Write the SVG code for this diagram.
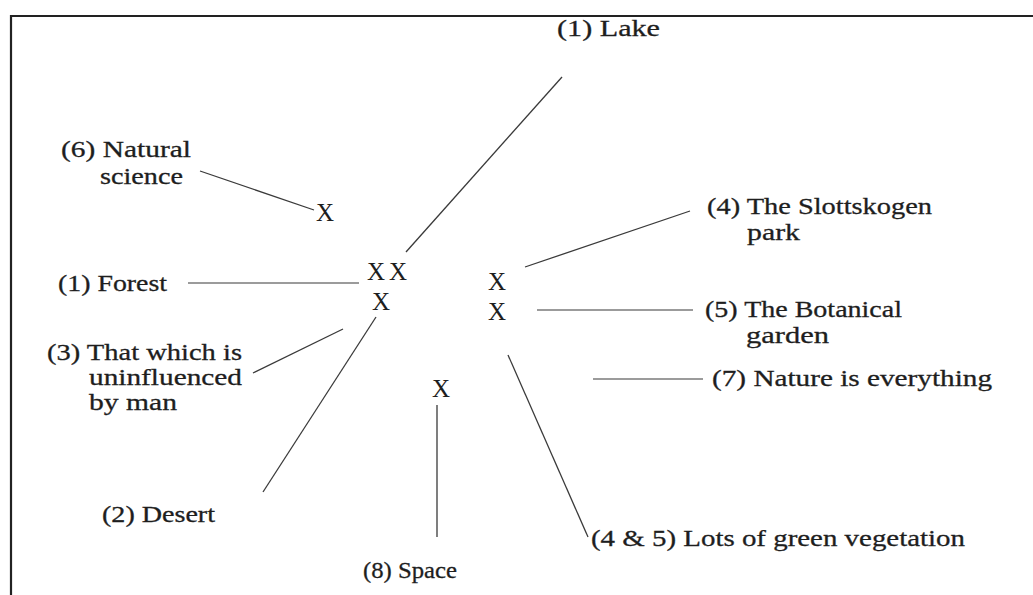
<svg xmlns="http://www.w3.org/2000/svg" width="1033" height="595" viewBox="0 0 1033 595">
<style>
.lbl{font-family:"Liberation Serif","Times New Roman",serif;font-size:24px;fill:#1e1e1e;stroke:#1e1e1e;stroke-width:0.3;}
.x{font-family:"Liberation Serif","Times New Roman",serif;font-size:25px;fill:#1e1e1e;text-anchor:middle;}
.c{stroke:#3a3a3a;stroke-width:1.3;fill:none;}
.cl{stroke:#7a7a7a;stroke-width:1.3;fill:none;}
.frame{stroke:#222;stroke-width:2.2;fill:none;}
</style>
<rect x="0" y="0" width="1033" height="595" fill="#fff"/>
<g id="frame">
<path class="frame" d="M11,595 L11,16 L1033,16"/>
</g>
<g id="connectors">
<line class="c" x1="406" y1="252" x2="562" y2="77"/>
<line class="c" x1="200" y1="171" x2="314" y2="210"/>
<line class="cl" x1="188" y1="283" x2="359" y2="283"/>
<line class="c" x1="253" y1="373" x2="343" y2="329"/>
<line class="c" x1="376" y1="317" x2="263" y2="492"/>
<line class="c" x1="437" y1="405" x2="437" y2="537"/>
<line class="c" x1="525" y1="267" x2="690" y2="211"/>
<line class="cl" x1="537" y1="310" x2="693" y2="310"/>
<line class="cl" x1="593" y1="379" x2="703" y2="379"/>
<line class="c" x1="508" y1="355" x2="588" y2="537"/>
</g>
<g id="mark-lake-forest-1"><text class="x" x="376" y="280">X</text></g>
<g id="mark-lake-forest-2"><text class="x" x="398" y="280">X</text></g>
<g id="mark-desert-uninfluenced"><text class="x" x="381" y="310">X</text></g>
<g id="mark-slottskogen"><text class="x" x="497" y="290">X</text></g>
<g id="mark-botanical"><text class="x" x="497" y="320">X</text></g>
<g id="mark-space"><text class="x" x="441" y="397">X</text></g>
<g id="mark-natural-science"><text class="x" x="325" y="221">X</text></g>
<g id="label-lake"><text class="lbl" x="557" y="36" textLength="103" lengthAdjust="spacingAndGlyphs">(1) Lake</text></g>
<g id="label-natural-science">
<text class="lbl" x="61" y="157" textLength="130" lengthAdjust="spacingAndGlyphs">(6) Natural</text>
<text class="lbl" x="100" y="184" textLength="83" lengthAdjust="spacingAndGlyphs">science</text>
</g>
<g id="label-forest"><text class="lbl" x="58" y="291" textLength="109" lengthAdjust="spacingAndGlyphs">(1) Forest</text></g>
<g id="label-uninfluenced">
<text class="lbl" x="47" y="360" textLength="195" lengthAdjust="spacingAndGlyphs">(3) That which is</text>
<text class="lbl" x="89" y="385" textLength="153" lengthAdjust="spacingAndGlyphs">uninfluenced</text>
<text class="lbl" x="89" y="410" textLength="88" lengthAdjust="spacingAndGlyphs">by man</text>
</g>
<g id="label-desert"><text class="lbl" x="102" y="522" textLength="113" lengthAdjust="spacingAndGlyphs">(2) Desert</text></g>
<g id="label-space"><text class="lbl" x="363" y="578" textLength="94" lengthAdjust="spacingAndGlyphs">(8) Space</text></g>
<g id="label-green"><text class="lbl" x="591" y="546" textLength="374" lengthAdjust="spacingAndGlyphs">(4 &amp; 5) Lots of green vegetation</text></g>
<g id="label-slottskogen">
<text class="lbl" x="707" y="214" textLength="225" lengthAdjust="spacingAndGlyphs">(4) The Slottskogen</text>
<text class="lbl" x="747" y="240" textLength="53" lengthAdjust="spacingAndGlyphs">park</text>
</g>
<g id="label-botanical">
<text class="lbl" x="705" y="317" textLength="197" lengthAdjust="spacingAndGlyphs">(5) The Botanical</text>
<text class="lbl" x="746" y="343" textLength="83" lengthAdjust="spacingAndGlyphs">garden</text>
</g>
<g id="label-nature"><text class="lbl" x="712" y="386" textLength="280" lengthAdjust="spacingAndGlyphs">(7) Nature is everything</text></g>
</svg>
